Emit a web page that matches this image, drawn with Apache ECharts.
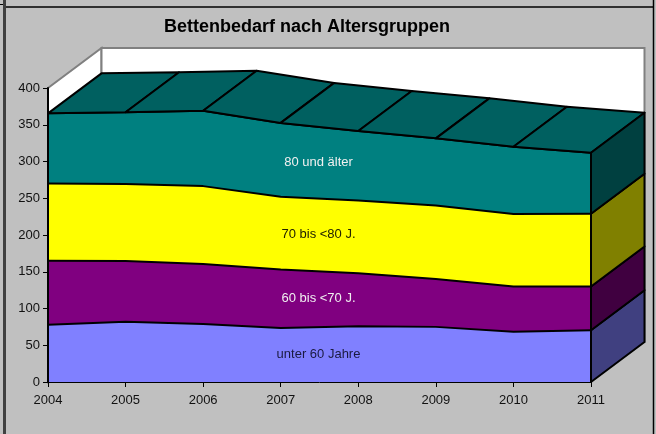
<!DOCTYPE html>
<html>
<head>
<meta charset="utf-8">
<title>Bettenbedarf nach Altersgruppen</title>
<script src="https://cdn.jsdelivr.net/npm/echarts@6/dist/echarts.min.js"></script>
<style>
  html, body { margin: 0; padding: 0; background: #c0c0c0; }
  #main { width: 656px; height: 434px; }
</style>
</head>
<body>
<div id="main"></div>
<script>
var years = ['2004', '2005', '2006', '2007', '2008', '2009', '2010', '2011'];

// layer thicknesses
var unter60 = [78, 82, 79, 73.5, 76, 75, 68.5, 70.5];
var bis70 = [87, 82.5, 81.5, 79.5, 72, 65, 61.5, 59.5];
var bis80 = [105, 105, 106, 99, 99, 100, 98.5, 99];
var ueber80 = [95.5, 97.5, 102.5, 100.5, 94.5, 91.5, 91.5, 83];

var layerNames = ['unter 60 Jahre', '60 bis <70 J.', '70 bis <80 J.', '80 und älter'];
var layerValues = [unter60, bis70, bis80, ueber80];
var frontColors = ['#8080ff', '#800080', '#ffff00', '#008080'];
var sideColors = ['#404080', '#400040', '#808000', '#004040'];
var topColor = '#006060';
var labelColors = ['#1a1a40', '#f0f0f0', '#222200', '#f0f0f0'];
var labelHeights = [37, 114, 200.5, 299];

// 3d depth of the plot in pixels
var depthX = 53.5;
var depthY = -40;

var myChart = echarts.init(document.getElementById('main'));

// running totals, the top edge of each layer
var tops = [];
layerValues.forEach(function (vals, l) {
  tops.push(vals.map(function (v, i) {
    return v + (l > 0 ? tops[l - 1][i] : 0);
  }));
});

function shifted(p) {
  return [p[0] + depthX, p[1] + depthY];
}

// white back and left wall behind the areas
function renderWalls(params, api) {
  var a = api.coord([0, 0]);
  var b = api.coord([years.length - 1, 0]);
  var c = api.coord([0, 400]);
  var d = api.coord([years.length - 1, 400]);
  var line = { stroke: '#808080', lineWidth: 2, fill: '#ffffff' };
  return {
    type: 'group',
    children: [
      { type: 'polygon', shape: { points: [a, shifted(a), shifted(c), c] }, style: line },
      { type: 'polygon', shape: { points: [shifted(a), shifted(b), shifted(d), shifted(c)] }, style: line }
    ]
  };
}

// slanted faces on top of the highest layer
function renderTop(params, api) {
  var i = api.value(0);
  var p = api.coord([i, api.value(1)]);
  var q = api.coord([i + 1, api.value(2)]);
  return {
    type: 'polygon',
    shape: { points: [p, q, shifted(q), shifted(p)] },
    style: { fill: topColor, stroke: '#000', lineWidth: 2, lineJoin: 'round' }
  };
}

// right hand faces, one per layer
function renderSide(params, api) {
  var l = api.value(0);
  var p = api.coord([years.length - 1, api.value(1)]);
  var q = api.coord([years.length - 1, api.value(2)]);
  return {
    type: 'polygon',
    shape: { points: [p, q, shifted(q), shifted(p)] },
    style: { fill: sideColors[l], stroke: '#000', lineWidth: 2, lineJoin: 'round' }
  };
}

// layer names sit in the middle of the plot, between 2007 and 2008
function renderLabel(params, api) {
  var l = api.value(0);
  var p1 = api.coord([3, api.value(1)]);
  var p2 = api.coord([4, api.value(1)]);
  return {
    type: 'text',
    x: (p1[0] + p2[0]) / 2 - 1,
    y: p1[1],
    style: {
      text: layerNames[l],
      fill: labelColors[l],
      font: '13px Arial, "Liberation Sans", sans-serif',
      align: 'center',
      verticalAlign: 'middle'
    }
  };
}

var topData = [];
for (var i = 0; i < years.length - 1; i++) {
  topData.push([i, tops[3][i], tops[3][i + 1]]);
}
var sideData = tops.map(function (t, l) {
  return [l, l > 0 ? tops[l - 1][years.length - 1] : 0, t[years.length - 1]];
});
var labelData = labelHeights.map(function (h, l) {
  return [l, h];
});

var series = [
  { type: 'custom', renderItem: renderWalls, data: [[0]], z: 1, silent: true, clip: false }
];
layerValues.forEach(function (vals, l) {
  series.push({
    name: layerNames[l],
    type: 'line',
    stack: 'betten',
    data: vals,
    symbol: 'none',
    z: 2,
    lineStyle: { color: '#000', width: 2 },
    areaStyle: { color: frontColors[l], opacity: 1, origin: 'auto' }
  });
});
series.push({ type: 'custom', renderItem: renderTop, data: topData, z: 3, silent: true, clip: false });
series.push({ type: 'custom', renderItem: renderSide, data: sideData, z: 3, silent: true, clip: false });
series.push({ type: 'custom', renderItem: renderLabel, data: labelData, z: 4, silent: true, clip: false });

var option = {
  backgroundColor: '#c0c0c0',
  animation: false,
  textStyle: { fontFamily: 'Arial, "Liberation Sans", sans-serif' },
  title: {
    text: 'Bettenbedarf nach Altersgruppen',
    left: 302,
    top: 13,
    textAlign: 'center',
    textStyle: { fontSize: 18, fontWeight: 'bold', color: '#000', fontFamily: 'Arial, "Liberation Sans", sans-serif' }
  },
  grid: { left: 48, top: 88, width: 543, height: 294 },
  xAxis: {
    type: 'category',
    data: years,
    boundaryGap: false,
    axisLine: { lineStyle: { color: '#000', width: 1 } },
    axisTick: { length: 5, lineStyle: { color: '#000' } },
    axisLabel: { color: '#111', fontSize: 13, margin: 12 },
    z: 5
  },
  yAxis: {
    type: 'value',
    min: 0,
    max: 400,
    interval: 50,
    splitLine: { show: false },
    axisLine: { show: true, lineStyle: { color: '#000', width: 2 } },
    axisTick: { show: true, length: 5, lineStyle: { color: '#000' } },
    axisLabel: { color: '#111', fontSize: 13, margin: 8 },
    z: 5
  },
  // page frame around the chart
  graphic: [
    { type: 'rect', shape: { x: 3, y: 0, width: 3, height: 434 }, style: { fill: '#404040' } },
    { type: 'line', shape: { x1: 0, y1: 4.5, x2: 3, y2: 4.5 }, style: { stroke: '#000', lineWidth: 1 } },
    { type: 'line', shape: { x1: 6, y1: 7, x2: 653, y2: 7 }, style: { stroke: '#000', lineWidth: 1.5 } },
    { type: 'line', shape: { x1: 653.5, y1: 0, x2: 653.5, y2: 434 }, style: { stroke: '#000', lineWidth: 1.5 } }
  ],
  series: series
};

myChart.setOption(option);
</script>
</body>
</html>
